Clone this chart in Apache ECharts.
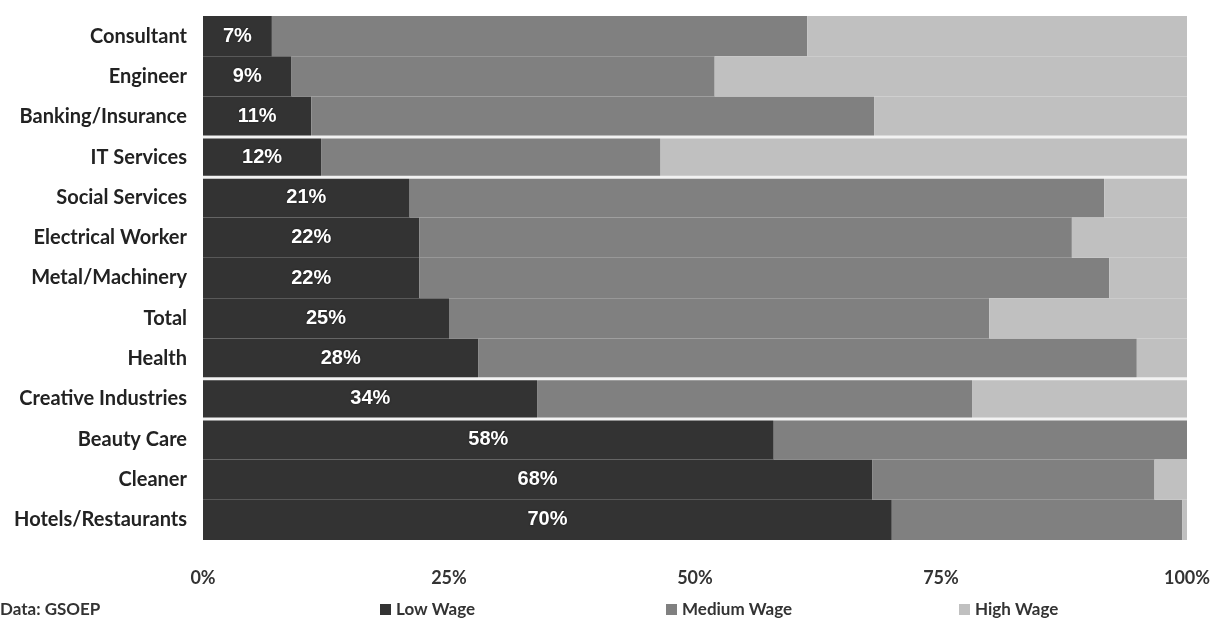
<!DOCTYPE html>
<html>
<head>
<meta charset="utf-8">
<script src="https://cdn.jsdelivr.net/npm/echarts@6/dist/echarts.min.js"></script>
<style>html,body{margin:0;padding:0;background:#fff}#c{width:1216px;height:624px}</style>
</head>
<body>
<div id="c"></div>
<script>
const categories = ['Consultant','Engineer','Banking/Insurance','IT Services','Social Services','Electrical Worker','Metal/Machinery','Total','Health','Creative Industries','Beauty Care','Cleaner','Hotels/Restaurants'];
const lowWage    = [7, 9, 11, 12, 21, 22, 22, 25, 28, 34, 58, 68, 70];
const mediumWage = [54.4, 43.0, 57.2, 34.5, 70.6, 66.3, 70.1, 54.9, 66.9, 44.2, 42.0, 28.7, 29.5];
const highWage   = [38.6, 48.0, 31.8, 53.5, 8.4, 11.7, 7.9, 20.1, 5.1, 21.8, 0, 3.3, 0.5];
const groupEnds  = ['Banking/Insurance','IT Services','Health','Creative Industries'];
const xTicks     = [0, 25, 50, 75, 100];
const seriesNames = ['Low Wage','Medium Wage','High Wage'];
const colors = ['#333333','#808080','#c0c0c0'];
const FONT = 'Lato';

const chart = echarts.init(document.getElementById('c'));
const legendLefts = [375, 661, 954];
chart.setOption({
  animation: false,
  backgroundColor: '#ffffff',
  grid: { left: 203, right: 29, top: 16, bottom: 84, containLabel: false },
  xAxis: {
    type: 'value', min: xTicks[0], max: xTicks[xTicks.length-1], interval: 25,
    axisLine: { show: false }, axisTick: { show: false }, splitLine: { show: false },
    axisLabel: { formatter: v => v + '%', margin: 29, color: '#333', fontFamily: FONT, fontWeight: 'bold', fontSize: 18 }
  },
  yAxis: {
    type: 'category', data: categories, inverse: true,
    axisLine: { show: false }, axisTick: { show: false },
    axisLabel: { margin: 16, color: '#222', fontFamily: FONT, fontWeight: 'bold', fontSize: 20 }
  },
  legend: seriesNames.map((n, i) => ({
    data: [n], left: legendLefts[i], top: 596, itemWidth: 11, itemHeight: 11, itemGap: 0,
    icon: 'rect', textStyle: { fontFamily: FONT, fontWeight: 'bold', fontSize: 17, color: '#333' }
  })),
  graphic: [{ type: 'text', left: 0, top: 601, style: { text: 'Data: GSOEP', fontFamily: FONT, fontWeight: 'bold', fontSize: 17, fill: '#333' } }],
  series: [
    { name: seriesNames[0], type: 'bar', stack: 's', data: lowWage, barCategoryGap: 0, itemStyle: { color: colors[0] },
      label: { show: true, position: 'inside', formatter: p => Math.round(p.value) + '%', color: '#fff', fontFamily: 'Liberation Sans', fontWeight: 'bold', fontSize: 20, textShadowColor: 'rgba(0,0,0,0.6)', textShadowBlur: 2 } },
    { name: seriesNames[1], type: 'bar', stack: 's', data: mediumWage, barCategoryGap: 0, itemStyle: { color: colors[1] } },
    { name: seriesNames[2], type: 'bar', stack: 's', data: highWage, barCategoryGap: 0, itemStyle: { color: colors[2] } },
    { type: 'custom', z: 10, silent: true,
      data: groupEnds.map(c => [0, categories.indexOf(c)]),
      encode: { x: 0, y: 1 },
      renderItem: (params, api) => {
        const idx = api.value(1);
        const band = api.size([0, 1])[1];
        const p0 = api.coord([xTicks[0], idx]);
        const p1 = api.coord([xTicks[xTicks.length-1], idx]);
        const y = p0[1] + band / 2;
        return { type: 'line', shape: { x1: p0[0], y1: y, x2: p1[0], y2: y }, style: { stroke: '#f2f2f2', lineWidth: 3 } };
      } }
  ]
});
</script>
</body>
</html>
